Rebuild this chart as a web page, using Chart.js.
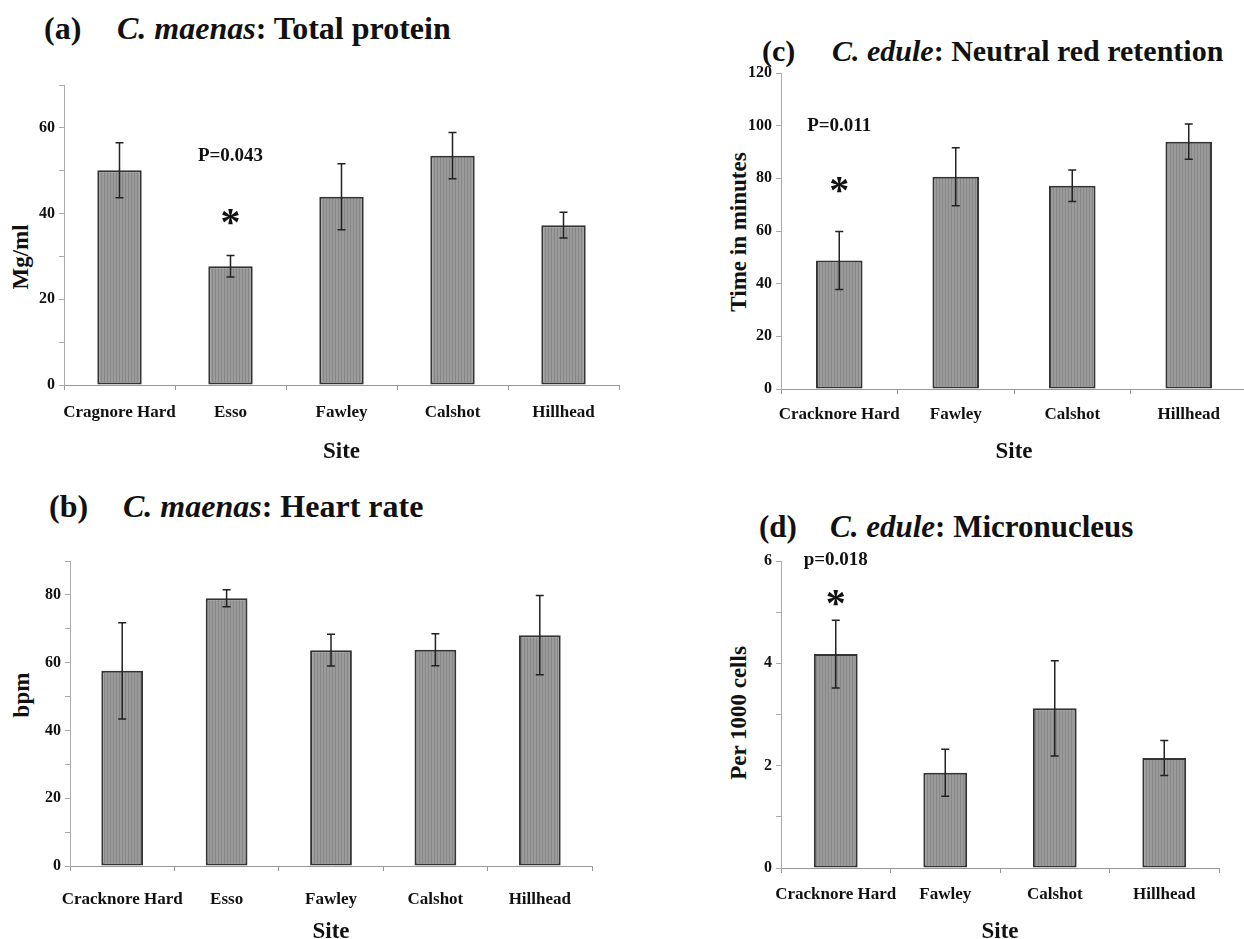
<!DOCTYPE html>
<html>
<head>
<meta charset="utf-8">
<title>Site biomarkers</title>
<script src="https://cdn.jsdelivr.net/npm/chart.js@4.4.1/dist/chart.umd.min.js"></script>
<style>
  html, body { margin: 0; padding: 0; background: #fff; overflow: hidden; }
  body { width: 1244px; height: 939px; position: relative; font-family: 'Liberation Serif', 'Times New Roman', serif; color: #111; }
  canvas { position: absolute; }
  .titulo { position: absolute; font-weight: bold; line-height: 1.2; white-space: nowrap; }
  .eixo-y { position: absolute; font-weight: bold; font-size: 23px; line-height: 1.2; white-space: nowrap;
            transform: translate(-50%, -50%) rotate(-90deg); }
</style>
</head>
<body>

<div class="titulo" style="left:44px; top:9px; font-size:32px;">(a)</div>
<div class="titulo" style="left:117px; top:9px; font-size:32px;"><i>C. maenas</i>: Total protein</div>
<div class="titulo" style="left:49px; top:487px; font-size:32px;">(b)</div>
<div class="titulo" style="left:123px; top:487px; font-size:32px;"><i>C. maenas</i>: Heart rate</div>
<div class="titulo" style="left:762px; top:33px; font-size:30px;">(c)</div>
<div class="titulo" style="left:832px; top:33px; font-size:30px;"><i>C. edule</i>: Neutral red retention</div>
<div class="titulo" style="left:759px; top:508px; font-size:31px;">(d)</div>
<div class="titulo" style="left:830px; top:508px; font-size:31px;"><i>C. edule</i>: Micronucleus</div>

<div class="eixo-y" style="left:21px; top:257px;">Mg/ml</div>
<div class="eixo-y" style="left:22px; top:695px;">bpm</div>
<div class="eixo-y" style="left:739px; top:232px;">Time in minutes</div>
<div class="eixo-y" style="left:739px; top:713px;">Per 1000 cells</div>

<canvas id="graficoA" width="622" height="426" style="left:0px; top:40px;"></canvas>
<canvas id="graficoB" width="600" height="466" style="left:0px; top:480px;"></canvas>
<canvas id="graficoC" width="548" height="426" style="left:700px; top:40px;"></canvas>
<canvas id="graficoD" width="524" height="446" style="left:700px; top:500px;"></canvas>

<script>
// Dados
const sitiosCaranguejo = ['Cragnore Hard', 'Esso', 'Fawley', 'Calshot', 'Hillhead'];
const sitiosCardiaco = ['Cracknore Hard', 'Esso', 'Fawley', 'Calshot', 'Hillhead'];
const sitiosBerbigao = ['Cracknore Hard', 'Fawley', 'Calshot', 'Hillhead'];

const proteinaMedia = [50.1, 27.7, 43.9, 53.5, 37.3];
const proteinaErro = [6.4, 2.5, 7.7, 5.4, 3.0];

const batimentoMedia = [57.6, 79.0, 63.7, 63.8, 68.1];
const batimentoErro = [14.2, 2.5, 4.7, 4.7, 11.7];

const vermelhoMedia = [48.8, 80.6, 77.2, 93.9];
const vermelhoErro = [11.0, 11.0, 6.0, 6.7];

const micronucleoMedia = [4.18, 1.86, 3.12, 2.15];
const micronucleoErro = [0.66, 0.46, 0.93, 0.34];

const FONTE = "'Liberation Serif', 'Times New Roman', serif";

// Preenchimento cinza com listras verticais
function criarListras() {
    const c = document.createElement('canvas');
    c.width = 3;
    c.height = 4;
    const g = c.getContext('2d');
    g.fillStyle = '#9b9b9b';
    g.fillRect(0, 0, 3, 4);
    g.fillStyle = '#868686';
    g.fillRect(2, 0, 1, 4);
    return g.createPattern(c, 'repeat');
}
const listras = criarListras();

// Plugin para barras de erro e marcas de significância
const pluginErros = {
    id: 'barrasErro',
    afterDatasetsDraw(chart, args, opts) {
        const ctx = chart.ctx;
        const meta = chart.getDatasetMeta(0);
        const y = chart.scales.y;
        const medias = chart.data.datasets[0].data;
        ctx.save();
        ctx.strokeStyle = '#222';
        ctx.lineWidth = 1.5;
        meta.data.forEach((barra, i) => {
            const topo = y.getPixelForValue(medias[i] + opts.erros[i]);
            const base = y.getPixelForValue(medias[i] - opts.erros[i]);
            ctx.beginPath();
            ctx.moveTo(barra.x, topo);
            ctx.lineTo(barra.x, base);
            ctx.moveTo(barra.x - 4, topo);
            ctx.lineTo(barra.x + 4, topo);
            ctx.moveTo(barra.x - 4, base);
            ctx.lineTo(barra.x + 4, base);
            ctx.stroke();
        });

        if (opts.marca) {
            const m = opts.marca;
            const x = chart.scales.x.getPixelForValue(m.indice);
            ctx.fillStyle = '#111';
            ctx.textAlign = 'center';
            ctx.textBaseline = 'middle';
            ctx.font = 'bold 19px ' + FONTE;
            ctx.fillText(m.texto, x, y.getPixelForValue(m.valorTexto));
            ctx.font = 'bold 40px ' + FONTE;
            ctx.textBaseline = 'alphabetic';
            ctx.fillText('*', x, y.getPixelForValue(m.valorAsterisco) + 40 * 0.47);
        }
        ctx.restore();
    }
};

function criarGrafico(id, rotulos, medias, erros, eixo, layout, marca) {
    const ctx = document.getElementById(id).getContext('2d');
    return new Chart(ctx, {
        type: 'bar',
        data: {
            labels: rotulos,
            datasets: [{
                data: medias,
                backgroundColor: listras,
                borderColor: '#333',
                borderWidth: 2,
                borderSkipped: false,
                categoryPercentage: 1,
                barPercentage: 0.4
            }]
        },
        options: {
            responsive: false,
            animation: false,
            layout: {
                padding: { top: layout.topo, right: layout.direita, left: 0, bottom: 0 }
            },
            plugins: {
                legend: { display: false },
                tooltip: { enabled: false },
                barrasErro: { erros: erros, marca: marca }
            },
            scales: {
                x: {
                    grid: { drawOnChartArea: false, tickLength: 5, color: '#999', offset: true },
                    border: { color: '#999', width: 1 },
                    ticks: {
                        color: '#111',
                        padding: layout.padRotulo,
                        font: { family: FONTE, size: 17, weight: 'bold' },
                        maxRotation: 0,
                        autoSkip: false
                    },
                    title: {
                        display: true,
                        text: 'Site',
                        color: '#111',
                        padding: 0,
                        font: { family: FONTE, size: 23, weight: 'bold', lineHeight: 1.2 }
                    },
                    afterFit: s => { s.height = layout.alturaX; }
                },
                y: {
                    min: 0,
                    max: eixo.max,
                    grid: { drawOnChartArea: false, tickLength: 5, color: '#aaa' },
                    border: { color: '#aaa', width: 1 },
                    ticks: {
                        stepSize: eixo.passo,
                        color: '#111',
                        padding: 4,
                        font: { family: FONTE, size: 16, weight: 'bold' },
                        callback: v => (Math.round(v * 100) % Math.round(eixo.rotulo * 100) === 0 ? v : '')
                    },
                    afterFit: s => { s.width = layout.larguraY; }
                }
            }
        },
        plugins: [pluginErros]
    });
}

criarGrafico('graficoA', sitiosCaranguejo, proteinaMedia, proteinaErro,
    { max: 70, passo: 10, rotulo: 20 },
    { topo: 45, direita: 3, larguraY: 64, alturaX: 81, padRotulo: 12 },
    { indice: 1, texto: 'P=0.043', valorTexto: 53.3, valorAsterisco: 39.5 });

criarGrafico('graficoB', sitiosCardiaco, batimentoMedia, batimentoErro,
    { max: 90, passo: 10, rotulo: 20 },
    { topo: 81, direita: 8, larguraY: 70, alturaX: 80, padRotulo: 18 },
    null);

criarGrafico('graficoC', sitiosBerbigao, vermelhoMedia, vermelhoErro,
    { max: 120, passo: 20, rotulo: 20 },
    { topo: 33, direita: 1, larguraY: 81, alturaX: 77, padRotulo: 10 },
    { indice: 0, texto: 'P=0.011', valorTexto: 99.7, valorAsterisco: 77.6 });

criarGrafico('graficoD', sitiosBerbigao, micronucleoMedia, micronucleoErro,
    { max: 6, passo: 1, rotulo: 2 },
    { topo: 61, direita: 5, larguraY: 81, alturaX: 78, padRotulo: 11 },
    { indice: 0, texto: 'p=0.018', valorTexto: 6.02, valorAsterisco: 5.30 });
</script>
</body>
</html>
